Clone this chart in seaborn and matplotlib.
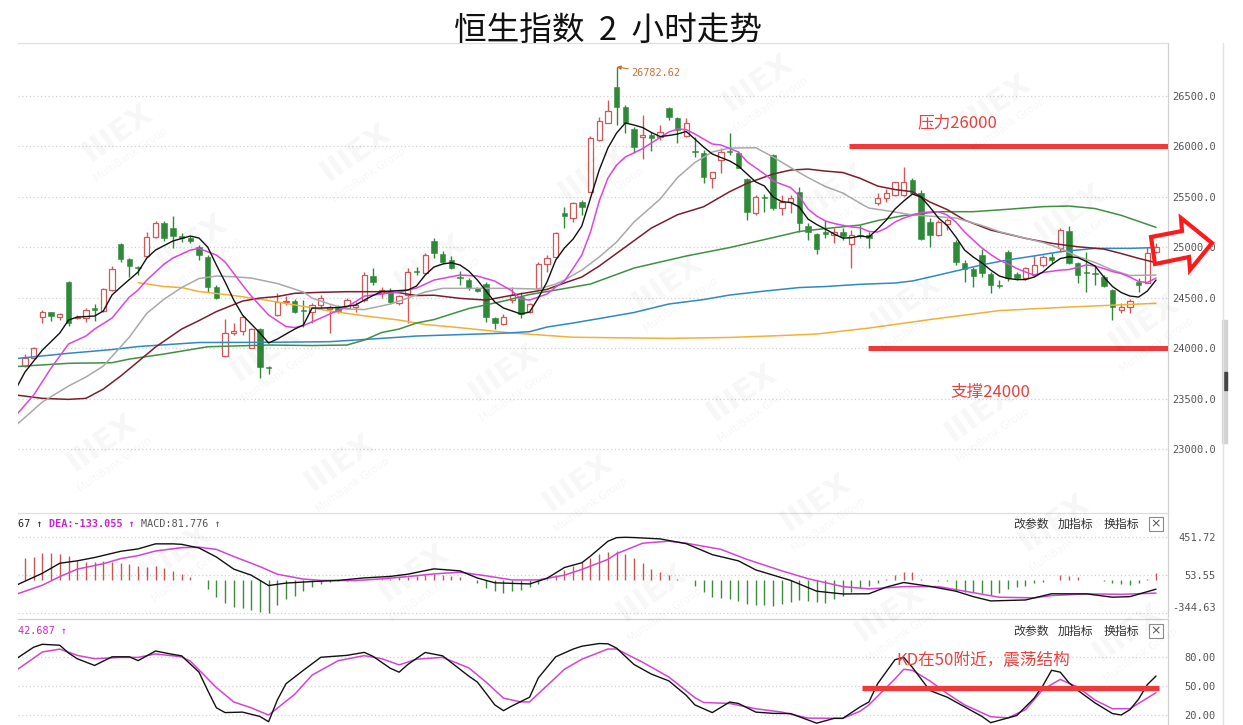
import numpy as np
import pandas as pd
import matplotlib
matplotlib.use("Agg")
import matplotlib.pyplot as plt
import seaborn as sns
from matplotlib.patches import Polygon, Rectangle
from matplotlib.lines import Line2D

# ---------------------------------------------------------------- data
opens = [23825, 23898, 24310, 24354, 24310, 24657, 24294, 24294, 24399, 24367,
         24574, 25030, 24881, 24805, 24914, 25096, 25235, 25185, 25109, 25092,
         24997, 24898, 24601, 23924, 24146, 24169, 24003, 24185, 23815, 24327,
         24453, 24469, 24376, 24360, 24426, 24389, 24399, 24396, 24406, 24475,
         24713, 24542, 24568, 24443, 24525, 24763, 24740, 25063, 24928, 24871,
         24706, 24673, 24591, 24634, 24294, 24238, 24475, 24508, 24360, 24594,
         24837, 24904, 25334, 25290, 25443, 25548, 26059, 26231, 26581, 26389,
         26168, 26086, 26109, 26092, 26373, 26280, 26099, 25951, 25928, 25686,
         25861, 25951, 25928, 25673, 25334, 25498, 25911, 25383, 25449, 25548,
         25211, 25126, 25152, 25119, 25149, 25027, 25119, 25119, 25433, 25482,
         25515, 25515, 25663, 25532, 25251, 25119, 25228, 25053, 24845, 24779,
         24921, 24733, 24624, 24954, 24733, 24690, 24723, 24822, 24898, 24987,
         25159, 24839, 24756, 24740, 24706, 24574, 24376, 24403, 24657, 24647,
         24954]
closes = [23898, 24003, 24354, 24320, 24334, 24245, 24310, 24376, 24376, 24581,
          24779, 24881, 24812, 24792, 25096, 25235, 25086, 25112, 25092, 25063,
          24921, 24607, 24492, 24146, 24169, 24310, 24185, 23815, 23805, 24459,
          24469, 24360, 24367, 24426, 24498, 24409, 24370, 24475, 24426, 24723,
          24657, 24574, 24459, 24515, 24756, 24750, 24921, 24938, 24855, 24795,
          24696, 24591, 24565, 24304, 24245, 24310, 24525, 24337, 24433, 24832,
          24896, 25139, 25310, 25439, 25399, 26082, 26248, 26347, 26389, 26225,
          25993, 26109, 26076, 26136, 26290, 26158, 26225, 25938, 25696, 25740,
          25944, 25938, 25785, 25344, 25498, 25488, 25389, 25449, 25488, 25235,
          25152, 24980, 25126, 25152, 25109, 25119, 25109, 25086, 25482, 25532,
          25641, 25647, 25538, 25076, 25119, 25251, 25267, 24855, 24779, 24713,
          24740, 24624, 24614, 24690, 24690, 24789, 24822, 24904, 24871, 25168,
          24845, 24723, 24740, 24730, 24614, 24409, 24409, 24466, 24624, 24938,
          25003]
highs = [23941, 24013, 24376, 24357, 24347, 24664, 24327, 24396, 24436, 24597,
         24812, 25037, 24888, 24812, 25146, 25261, 25261, 25310, 25136, 25109,
         25020, 24921, 24624, 24284, 24251, 24327, 24195, 24195, 23822, 24542,
         24515, 24482, 24475, 24449, 24525, 24426, 24426, 24492, 24459, 24756,
         24789, 24607, 24591, 24525, 24789, 24805, 24938, 25086, 24964, 24914,
         24766, 24690, 24607, 24657, 24310, 24337, 24607, 24558, 24443, 24855,
         24921, 25152, 25399, 25449, 25465, 26099, 26290, 26455, 26782.62, 26406,
         26191, 26307, 26136, 26208, 26389, 26290, 26274, 26092, 25960, 25746,
         25977, 26126, 25954, 25680, 25515, 25522, 25918, 25515, 25515, 25597,
         25235, 25136, 25267, 25185, 25188, 25168, 25218, 25152, 25538, 25571,
         25647, 25795, 25680, 25564, 25284, 25267, 25284, 25069, 24871, 24805,
         24977, 24756, 24673, 24970, 24756, 24805, 24921, 24921, 24938, 25185,
         25208, 24855, 24954, 24822, 24723, 24581, 24443, 24482, 24690, 25003,
         25037]
lows = [23815, 23888, 24251, 24271, 24277, 24218, 24284, 24261, 24271, 24360,
        24568, 24855, 24700, 24723, 24904, 25086, 25060, 24987, 25053, 25037,
        24871, 24552, 24485, 23914, 24129, 24129, 23997, 23700, 23743, 24317,
        24426, 24344, 24211, 24248, 24393, 24146, 24344, 24393, 24360, 24459,
        24624, 24492, 24443, 24426, 24245, 24723, 24733, 24888, 24839, 24779,
        24624, 24574, 24558, 24261, 24185, 24228, 24443, 24294, 24350, 24581,
        24756, 24888, 25185, 25251, 25317, 25542, 26050, 26225, 26208, 26126,
        25928, 25871, 25951, 26059, 26257, 26027, 26092, 25894, 25631, 25587,
        25730, 25911, 25779, 25267, 25314, 25350, 25366, 25317, 25334, 25152,
        25069, 24928, 25086, 25037, 25069, 24789, 25086, 24987, 25416, 25449,
        25505, 25505, 25532, 25069, 25003, 25109, 25168, 24822, 24657, 24607,
        24700, 24542, 24591, 24667, 24673, 24673, 24700, 24799, 24839, 24954,
        24832, 24641, 24558, 24624, 24607, 24277, 24344, 24344, 24558, 24641,
        24938]

ma5_x = [-1, 0, 2, 4, 5, 6, 8, 9, 10, 11, 13, 14, 15, 17, 19, 20, 21, 22, 23, 24,
         25, 26, 27, 28, 29, 30, 31, 32, 33, 34, 36, 38, 39, 40, 41, 43, 44, 45, 46, 47,
         48, 49, 50, 51, 52, 53, 54, 55, 56, 57, 58, 59, 60, 61, 62, 63, 64, 65, 66, 67,
         68, 69, 70, 71, 72, 73, 74, 75, 76, 77, 78, 79, 80, 81, 82, 83, 84, 85, 86, 87,
         88, 89, 90, 91, 92, 93, 94, 95, 96, 97, 98, 99, 100, 101, 102, 103, 104, 105, 106, 107,
         108, 109, 110, 111, 112, 113, 114, 115, 116, 117, 118, 119, 120, 121, 122, 123, 124, 125, 126, 127,
         128, 129, 130]
ma5_v = [23604, 23763, 23980, 24149, 24277, 24307, 24317, 24367, 24525, 24604, 24753, 24891, 24970, 25060, 25109, 25089, 25000, 24822, 24654, 24475,
         24327, 24238, 24149, 24050, 24089, 24139, 24188, 24228, 24396, 24396, 24401, 24426, 24475, 24520, 24560, 24569, 24574, 24614, 24723, 24802,
         24832, 24845, 24822, 24763, 24673, 24564, 24456, 24396, 24367, 24337, 24357, 24495, 24654, 24871, 24990, 25079, 25208, 25485, 25762, 25980,
         26129, 26228, 26208, 26183, 26134, 26094, 26104, 26119, 26144, 26069, 25990, 25921, 25886, 25852, 25802, 25723, 25644, 25604, 25495, 25449,
         25441, 25396, 25277, 25223, 25178, 25129, 25089, 25092, 25109, 25099, 25178, 25267, 25376, 25455, 25525, 25495, 25396, 25287, 25213, 25099,
         24970, 24901, 24842, 24772, 24713, 24688, 24678, 24678, 24703, 24753, 24827, 24886, 24904, 24896, 24857, 24812, 24703, 24609, 24550, 24515,
         24505, 24564, 24673]

ma10_x = [-1, 1, 3, 5, 7, 8, 10, 12, 13, 14, 16, 17, 19, 20, 22, 23, 25, 26, 28, 30,
          31, 32, 34, 35, 37, 39, 41, 43, 45, 47, 50, 52, 54, 56, 57, 58, 60, 61, 62, 63,
          64, 65, 66, 67, 68, 69, 71, 72, 74, 75, 76, 77, 79, 80, 82, 83, 85, 86, 88, 89,
          90, 91, 92, 93, 95, 96, 97, 98, 99, 100, 101, 103, 105, 106, 107, 108, 109, 110, 111, 112,
          113, 114, 115, 116, 117, 119, 120, 122, 123, 124, 125, 126, 127, 128, 129, 130]
ma10_v = [23337, 23535, 23802, 24040, 24119, 24188, 24297, 24505, 24574, 24673, 24832, 24891, 24970, 24985, 24921, 24852, 24624, 24515, 24327, 24213,
          24203, 24223, 24297, 24337, 24406, 24515, 24535, 24555, 24594, 24673, 24723, 24713, 24663, 24564, 24485, 24475, 24535, 24604, 24663, 24789,
          24921, 25149, 25455, 25683, 25812, 25891, 25975, 26030, 26139, 26168, 26163, 26119, 26020, 26010, 25941, 25845, 25723, 25653, 25589, 25505,
          25376, 25307, 25258, 25233, 25198, 25191, 25154, 25149, 25188, 25248, 25287, 25342, 25350, 25317, 25248, 25149, 25069, 24990, 24926, 24871,
          24832, 24787, 24753, 24723, 24748, 24772, 24777, 24822, 24812, 24787, 24757, 24738, 24703, 24659, 24649, 24693]

ma20_x = [-1, 2, 5, 7, 9, 12, 14, 16, 18, 20, 22, 24, 26, 29, 32, 33, 35, 37, 39, 42,
          44, 46, 48, 52, 56, 59, 61, 62, 64, 66, 68, 70, 73, 75, 77, 79, 81, 84, 86, 88,
          90, 92, 94, 96, 97, 100, 102, 105, 107, 110, 112, 114, 117, 119, 121, 123, 125, 127, 130]
ma20_v = [23238, 23466, 23624, 23713, 23822, 24109, 24344, 24485, 24599, 24688, 24713, 24706, 24693, 24639, 24555, 24495, 24436, 24386, 24381, 24436,
          24495, 24555, 24591, 24591, 24591, 24584, 24634, 24673, 24772, 24901, 25050, 25248, 25475, 25688, 25837, 25941, 25980, 25983, 25891, 25787,
          25688, 25599, 25535, 25433, 25386, 25347, 25317, 25300, 25287, 25213, 25152, 25109, 25045, 24987, 24906, 24847, 24772, 24718, 24723]

ma30_x = [-1, 2, 5, 7, 9, 11, 13, 15, 18, 20, 22, 25, 27, 29, 31, 34, 37, 41, 43, 45,
          47, 50, 53, 56, 58, 60, 62, 64, 66, 69, 72, 75, 78, 81, 83, 86, 88, 90, 92, 94,
          96, 98, 100, 102, 104, 106, 108, 111, 115, 118, 121, 124, 126, 128, 130]
ma30_v = [23535, 23502, 23492, 23502, 23594, 23723, 23866, 24010, 24188, 24272, 24361, 24465, 24495, 24510, 24542, 24552, 24558, 24558, 24548, 24520,
          24523, 24492, 24475, 24523, 24552, 24581, 24644, 24703, 24812, 25000, 25188, 25320, 25399, 25548, 25631, 25723, 25762, 25772, 25752, 25738,
          25680, 25604, 25569, 25548, 25446, 25371, 25267, 25168, 25086, 25037, 25003, 24980, 24936, 24888, 24845]

ma60_x = [-1, 5, 10, 12, 16, 21, 28, 33, 37, 39, 41, 43, 45, 47, 51, 55, 58, 62, 65, 70,
          76, 81, 86, 89, 92, 96, 98, 101, 105, 109, 113, 117, 120, 123, 126, 130]
ma60_v = [23817, 23849, 23855, 23891, 23941, 24013, 24030, 24025, 24030, 24079, 24154, 24188, 24248, 24282, 24391, 24465, 24530, 24589, 24634, 24792,
          24911, 24995, 25094, 25154, 25183, 25218, 25262, 25312, 25350, 25350, 25374, 25400, 25406, 25381, 25314, 25195]

ma120_x = [-1, 5, 10, 13, 20, 28, 35, 41, 45, 55, 58, 60, 63, 66, 70, 74, 78, 81, 85, 89,
           92, 96, 100, 102, 104, 107, 110, 113, 116, 119, 123, 127, 130]
ma120_v = [23896, 23948, 23985, 24015, 24055, 24057, 24063, 24096, 24119, 24147, 24162, 24208, 24248, 24292, 24352, 24436, 24480, 24525, 24564, 24599,
           24609, 24631, 24644, 24664, 24703, 24763, 24824, 24873, 24912, 24954, 24987, 24987, 24995]

ma250_x = [13, 16, 18, 20, 24, 28, 32, 35, 39, 43, 46, 49, 56, 63, 74, 81, 87, 91, 97, 104, 112, 120, 130]
ma250_v = [24647, 24609, 24599, 24560, 24520, 24470, 24413, 24367, 24319, 24277, 24233, 24210, 24149, 24107, 24096, 24105, 24124, 24139, 24198, 24282,
           24371, 24406, 24443]

macd_hist = [233, 243, 288, 288, 278, 260, 208, 191, 191, 208, 191, 180, 173, 155, 138, 155, 131, 103, 68, 40,
             5, -89, -176, -239, -281, -288, -309, -333, -344.63, -254, -194, -159, -113, -65, -37, -19, -10, -5, 5, 8,
             5, 16, 16, 34, 40, 50, 61, 68, 61, 50, 34, 3, -29, -79, -113, -134, -113, -100, -71, -37,
             16, 55, 110, 150, 195, 235, 280, 300, 310, 277, 232, 180, 121, 86, 57, 16, 3,
             -54, -124, -170, -183, -194, -212, -246, -254, -254, -264, -246, -228, -204, -212, -228, -239, -194, -159, -124, -79, -54, -29,
             16, 61, 86, 86, 16, 5, -5, -3,
             -113, -124, -124, -134, -149, -134, -89, -65, -54, -29, -19,
             5, 61, 50, 34, 8, 5, -3,
             -29, -37, -44, -29, 16, 81.776]

dif_x = [-1, 2, 4, 6, 8, 11, 13, 15, 17, 18, 20, 22, 24, 26, 28, 30, 33, 36, 39, 42,
         44, 47, 50, 52, 54, 58, 60, 62, 64, 65, 67, 68, 69, 70, 73, 76, 79, 82, 84, 88,
         91, 94, 97, 99, 101, 104, 107, 109, 111, 115, 118, 122, 125, 127, 130]
dif_v = [-50, 75, 180, 205, 240, 305, 330, 383, 383, 378, 340, 245, 118, 55, -54, -28, -12, 0, 26, 42,
         65, 121, 100, 25, -25, -37, 22, 135, 185, 255, 410, 448, 451.72, 449, 435, 385, 270, 205, 110, 0,
         -113, -142, -140, -70, -22, -62, -113, -170, -215, -205, -140, -141, -176, -170, -92.167]

dea_x = [-1, 2, 4, 6, 9, 11, 13, 15, 18, 20, 22, 24, 27, 29, 32, 34, 38, 41, 44, 47,
         50, 53, 56, 59, 62, 64, 67, 68, 71, 74, 76, 80, 83, 87, 90, 94, 97, 101, 105, 108,
         112, 116, 118, 122, 126, 130]
dea_v = [-145, -50, 40, 118, 175, 228, 260, 308, 343, 348, 325, 250, 145, 65, 14, 0, -2, 16, 40, 68,
         86, 48, 5, 5, 55, 115, 220, 280, 390, 411, 390, 325, 220, 100, 18, -65, -89, -65, -65, -113,
         -176, -183, -159, -141, -146, -133.055]

k_x = [-1, 1, 2, 4, 5, 6, 8, 10, 12, 13, 15, 17, 18, 20, 21, 22, 23, 25, 27, 28,
       29, 30, 32, 34, 37, 39, 40, 42, 43, 44, 46, 48, 51, 52, 53, 54, 55, 56, 58, 59,
       61, 63, 64, 66, 67, 68, 70, 72, 74, 76, 77, 79, 81, 82, 84, 86, 88, 91, 93, 94,
       96, 97, 98, 100, 101, 102, 104, 106, 108, 110, 111, 114, 116, 117, 118, 119, 120, 121, 123, 125,
       126, 127, 128, 129, 130]
k_v = [78, 90, 93, 92, 84, 78, 71, 80, 80, 76, 86, 82.5, 81, 64, 45, 27, 22, 22.5, 18, 12.5,
       35, 52, 66, 79.5, 81.5, 84.6, 80.5, 68, 64, 72, 84.5, 81, 60, 53.7, 42, 30, 24, 29, 38, 58,
       80, 88, 91, 93.8, 93.5, 89, 72, 62, 55, 40, 30, 22, 33, 31.5, 22.5, 21.2, 21, 11, 16, 16,
       28, 33, 52, 77, 79.4, 69, 45, 38, 28, 18, 11.5, 19, 37, 50, 66, 64, 53, 45.2, 32, 21,
       19.5, 25, 36, 51, 60]

d_x = [-1, 2, 4, 6, 8, 11, 13, 15, 18, 19, 22, 24, 26, 28, 31, 33, 36, 39, 41, 43,
       45, 48, 51, 53, 55, 57, 58, 60, 62, 64, 67, 68, 71, 74, 77, 78, 81, 84, 87, 90,
       94, 96, 97, 100, 101, 102, 104, 106, 108, 111, 113, 115, 117, 119, 121, 123, 125, 127, 130]
d_v = [66, 85, 88, 81.5, 78, 79.4, 79.4, 83, 80, 75.5, 48, 33, 27, 19.4, 41, 61, 76, 81.2, 78, 71.6,
       77.5, 79.4, 68.5, 53.7, 37, 33.1, 33.1, 50, 67, 77.5, 88.1, 88.1, 74.3, 59, 37.5, 32.5, 31.5, 26, 22.5, 16.3,
       16, 23.5, 30, 57, 67, 66, 55, 41.8, 30, 17.7, 16.5, 25, 46, 56.5, 48.5, 35, 26, 26, 42.687]

price_ticks = [23000, 23500, 24000, 24500, 25000, 25500, 26000, 26500]
macd_ticks = [451.72, 53.55, -344.63]
kd_ticks = [20, 50, 80]
resistance, support, kd_level = 26000, 24000, 47.5
peak_label = "26782.62"

# ---------------------------------------------------------------- style
sns.set_style("white")
plt.rcParams['font.family'] = ['Noto Sans CJK SC', 'DejaVu Sans']
plt.rcParams['axes.unicode_minus'] = False
MONO = ['DejaVu Sans Mono', 'DejaVu Sans']

W, H = 1243, 725
fig = plt.figure(figsize=(W / 100, H / 100), dpi=100, facecolor='white')


def fx(p):
    return p / W


def fy(p):
    return 1 - p / H


L, R = 18, 1168
ax = fig.add_axes([fx(L), fy(512), (R - L) / W, (512 - 43) / H])
ax2 = fig.add_axes([fx(L), fy(617), (R - L) / W, (617 - 513) / H])
ax3 = fig.add_axes([fx(L), 0, (R - L) / W, (725 - 619) / H])

XL = (-0.805, 131.38)
RED_C, GRN_C = '#d05858', '#2e8a38'


def sline(a, xs, ys, color, lw=1.0, z=3):
    df = pd.DataFrame({'x': xs, 'y': ys})
    sns.lineplot(data=df, x='x', y='y', ax=a, color=color, lw=lw, zorder=z,
                 estimator=None, sort=False, legend=False)
    a.set_xlabel('')
    a.set_ylabel('')


# ------------------------------------------------------------ candles
o = np.array(opens, float)
c = np.array(closes, float)
h = np.array(highs, float)
l = np.array(lows, float)
x = np.arange(len(o))
up = c >= o
cols = np.where(up, RED_C, GRN_C)
ax.vlines(x, l, h, colors=cols, lw=1.0, zorder=2)
lo = np.minimum(o, c)
bh = np.maximum(np.abs(c - o), 12)
ax.bar(x[up], bh[up], bottom=lo[up], width=0.6, facecolor='white',
       edgecolor=RED_C, lw=0.9, zorder=2.5)
ax.bar(x[~up], bh[~up], bottom=lo[~up], width=0.64, facecolor=GRN_C,
       edgecolor=GRN_C, lw=0.4, zorder=2.5)

sline(ax, ma250_x, ma250_v, '#f2b136', 1.1)
sline(ax, ma120_x, ma120_v, '#2f88c8', 1.1)
sline(ax, ma60_x, ma60_v, '#3f9042', 1.1)
sline(ax, ma30_x, ma30_v, '#7a1f2e', 1.1)
sline(ax, ma20_x, ma20_v, '#a9a9a9', 1.1)
sline(ax, ma10_x, ma10_v, '#dc46dc', 1.1)
sline(ax, ma5_x, ma5_v, '#111111', 1.0)

ax.set_xlim(*XL)
ax.set_ylim(22377, 27020)
ax.set_yticks(price_ticks)
ax.set_yticklabels([f'{v:.1f}' for v in price_ticks])
ax.set_xticks([])
ax.grid(True, axis='y', color='#d2d2d2', lw=0.9, ls=(0, (1, 2)))
ax.grid(False, axis='x')

# resistance / support annotations
ax.hlines(resistance, 94.7, XL[1], color='#f0393b', lw=3.6, zorder=4)
ax.hlines(support, 96.9, XL[1], color='#f0393b', lw=3.6, zorder=4)
ax.text(107.2, 26228, f'压力{resistance}', color='#e8413f', fontsize=12,
        ha='center', va='center', zorder=5)
ax.text(110.9, 23565, f'支撑{support}', color='#e8413f', fontsize=12,
        ha='center', va='center', zorder=5)
ax.annotate(peak_label, xy=(68, float(peak_label)), xytext=(69.7, 26722),
            fontsize=7.3, color='#c87036', family=MONO, ha='left', va='center',
            arrowprops=dict(arrowstyle='-|>', color='#c87036', lw=0.8,
                            mutation_scale=6, shrinkA=0, shrinkB=0), zorder=5)

# ------------------------------------------------------------ MACD
hist = np.array(macd_hist, float)
ax2.vlines(np.arange(len(hist)), 0, hist,
           colors=np.where(hist >= 0, '#c85656', '#3b8c3b'), lw=1.0, zorder=2)
sline(ax2, dea_x, dea_v, '#d444d4', 1.1)
sline(ax2, dif_x, dif_v, '#111111', 1.0)
ax2.set_xlim(*XL)
ax2.set_ylim(-383.4, 706.3)
ax2.set_yticks(macd_ticks)
ax2.set_yticklabels([f'{v:.2f}' for v in macd_ticks])
ax2.set_xticks([])
ax2.grid(True, axis='y', color='#d2d2d2', lw=0.9, ls=(0, (1, 2)))
ax2.grid(False, axis='x')

# ------------------------------------------------------------ KD
sline(ax3, d_x, d_v, '#d444d4', 1.1)
sline(ax3, k_x, k_v, '#111111', 1.0)
ax3.hlines(kd_level, 96.2, 130.4, color='#f0393b', lw=3.8, zorder=4)
ax3.text(100.2, 77, 'KD在50附近，震荡结构', color='#e8413f', fontsize=12,
         ha='left', va='center', zorder=5)
ax3.set_xlim(*XL)
ax3.set_ylim(9.1, 119.3)
ax3.set_yticks(kd_ticks)
ax3.set_yticklabels([f'{v:.2f}' for v in kd_ticks])
ax3.set_xticks([])
ax3.grid(True, axis='y', color='#d2d2d2', lw=0.9, ls=(0, (1, 2)))
ax3.grid(False, axis='x')

# common axis styling
for a in (ax, ax2, ax3):
    a.set_facecolor('white')
    a.yaxis.tick_right()
    a.tick_params(axis='y', length=0, pad=34.5, labelsize=7.5, labelcolor='#555555')
    for t in a.get_yticklabels():
        t.set_ha('right')
        t.set_fontfamily(MONO)
    for s in ('left', 'bottom'):
        a.spines[s].set_visible(False)
    a.spines['top'].set_color('#dedede')
    a.spines['right'].set_color('#d0d0d0')
    a.spines['top'].set_linewidth(0.9)
    a.spines['right'].set_linewidth(0.9)
ax2.get_yticklabels()[-1].set_va('bottom')
ax3.spines['top'].set_color('#cfcfcf')

# ------------------------------------------------------------ texts
fig.text(fx(608), fy(31), '恒生指数  2  小时走势', ha='center', va='center',
         fontsize=23.5, color='#111111')

hdr_y = fy(524)
fig.text(fx(18), hdr_y, '67 ↑', family=MONO, fontsize=7.3, color='#222222', va='center')
fig.text(fx(49), hdr_y, 'DEA:-133.055 ↑', family=MONO, fontsize=7.3,
         color='#cc22cc', fontweight='bold', va='center')
fig.text(fx(141), hdr_y, 'MACD:81.776 ↑', family=MONO, fontsize=7.3, color='#555555', va='center')
fig.text(fx(18), fy(631), '42.687 ↑', family=MONO, fontsize=7.3, color='#cc22cc', va='center')

for yy in (524, 631):
    for label, xx in (('改参数', 1013), ('加指标', 1058), ('换指标', 1104)):
        fig.text(fx(xx), fy(yy), label, fontsize=8.6, color='#333333', va='center')
    fig.add_artist(Rectangle((fx(1149), fy(yy + 7)), 14 / W, 14 / H,
                             transform=fig.transFigure, facecolor='white',
                             edgecolor='#8a8a8a', lw=0.8))
    fig.text(fx(1156), fy(yy), '×', fontsize=9, color='#555555',
             ha='center', va='center', family='DejaVu Sans')

# scrollbar strip at far right
fig.add_artist(Line2D([fx(1223), fx(1223)], [fy(43), fy(725)], color='#e2e2e2',
                      lw=1, transform=fig.transFigure))
fig.add_artist(Rectangle((fx(1222), fy(443)), 5 / W, (443 - 320) / H,
                         transform=fig.transFigure, color='#d2d2d2'))
fig.add_artist(Rectangle((fx(1224), fy(390)), 3 / W, 18 / H,
                         transform=fig.transFigure, color='#444444'))

# hollow red arrow on the right
arrow_px = [(1151, 237), (1182, 231), (1181, 218), (1212, 243),
            (1190, 270), (1189, 257), (1155, 264)]
fig.add_artist(Polygon([(fx(a), fy(b)) for a, b in arrow_px], closed=True,
                       transform=fig.transFigure, facecolor='none',
                       edgecolor='#ff1a1a', lw=3.0, joinstyle='miter', zorder=6))

# faint watermarks
for r in range(-2, 7):
    for cc in range(-2, 7):
        cx = 117 + 238 * cc + 74 * r
        cy = 133 + 20 * cc + 110 * r
        if 70 < cx < 1150 and 70 < cy < 660:
            fig.text(fx(cx), fy(cy), 'IIIEX', rotation=35, fontsize=22,
                     fontweight='bold', color='black', alpha=0.035,
                     ha='center', va='center', family='DejaVu Sans')
            fig.text(fx(cx + 14), fy(cy + 22), 'MultiBank Group', rotation=35,
                     fontsize=7.5, color='black', alpha=0.04,
                     ha='center', va='center', family='DejaVu Sans')

fig.savefig('out.png', dpi=100, facecolor='white')
